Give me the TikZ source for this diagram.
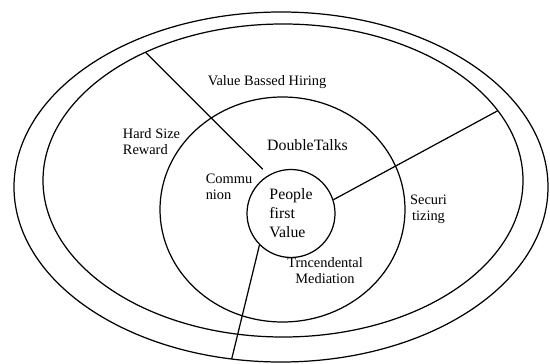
\documentclass[tikz,border=0pt]{standalone}
\usepackage{fontspec}
\setmainfont{Liberation Serif}
\usetikzlibrary{shapes.geometric}

\begin{document}
\begin{tikzpicture}[line width=.7pt,
            ring/.style={
            draw,
            ellipse,
            inner sep=0,
            outer sep=0},
            lbl/.style={
            align=left,
            inner sep=0,
            font=\fontsize{8.2}{9.2}\selectfont},
            biglbl/.style={
            align=left,
            inner sep=0,
            font=\fontsize{9}{10.8}\selectfont}]

           \useasboundingbox (0,0) rectangle (11,-7.28);

           \node[ring, minimum width=10.68cm, minimum height=7cm] (outer) at (5.62,-3.74) {};
           \node[ring, minimum width=9.6cm, minimum height=6.26cm] (middle) at (5.66,-3.61) {};
           \node[ring, minimum width=4.9cm, minimum height=4.5cm] (talks) at (5.65,-4.19) {};
           \node[biglbl, circle, draw, minimum size=1.76cm] (core) at (5.82,-4.27) {People\\first\\Value};

           \coordinate (tip) at (5.254,-3.386);
           \draw (middle.137) -- (tip);
           \draw (core.18) -- (middle.18);
           \draw (core.225) -- (outer.254);

           \node[lbl] (hiring) at (5.34,-1.65) {Value Bassed Hiring};
           \node[lbl] (reward) at (3.03,-2.83) {Hard Size\\Reward};
           \node[biglbl] (doubletalks) at (6.15,-2.9) {DoubleTalks};
           \node[lbl] (communion) at (4.58,-3.74) {Commu\\nion};
           \node[lbl, align=center] (securi) at (8.57,-4.19) {Securi\\tizing};
           \node[lbl, align=center] (mediation) at (6.5,-5.41) {Trncendental\\Mediation};
\end{tikzpicture}
\end{document}
